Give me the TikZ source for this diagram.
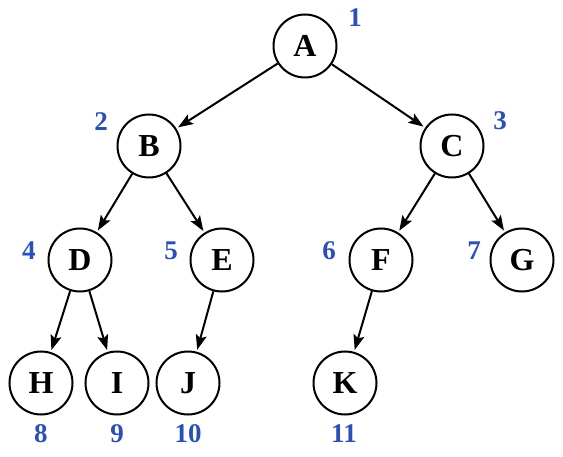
\documentclass[tikz,border=0pt]{standalone}
\usepackage{fontspec}
\setmainfont{Liberation Serif}
\usetikzlibrary{arrows.meta}
\definecolor{lblue}{HTML}{2A4FB8}
\begin{document}
\begin{tikzpicture}[x=1pt,y=-1pt,
  tn/.style={circle,draw,line width=2pt,minimum size=63pt,inner sep=0pt,font=\fontsize{32}{34}\selectfont\bfseries},
  num/.style={text=lblue,font=\fontsize{27}{29}\selectfont\bfseries,inner sep=0pt},
  edge/.style={line width=2pt,shorten >=2pt,-{Stealth[length=15pt,width=11pt,inset=3pt]}}]
\useasboundingbox (0,0) rectangle (563,457);
\node[tn] (A) at (305,46) {A};
\node[tn] (B) at (149,146) {B};
\node[tn] (C) at (452,146) {C};
\node[tn] (D) at (80,260) {D};
\node[tn] (E) at (222,260) {E};
\node[tn] (F) at (381,260) {F};
\node[tn] (G) at (522,260) {G};
\node[tn] (H) at (41,383) {H};
\node[tn] (I) at (117,383) {I};
\node[tn] (J) at (188,383) {J};
\node[tn] (K) at (345,383) {K};
\node[num] (n1) at (355,18) {1};
\node[num] (n2) at (101,122) {2};
\node[num] (n3) at (500,121) {3};
\node[num] (n4) at (29,251) {4};
\node[num] (n5) at (171,251) {5};
\node[num] (n6) at (329,251) {6};
\node[num] (n7) at (474,251) {7};
\node[num] (n8) at (41,434) {8};
\node[num] (n9) at (117,434) {9};
\node[num] (n10) at (188,434) {10};
\node[num] (n11) at (344,434) {11};
\draw[edge] (A) -- (B);
\draw[edge] (A) -- (C);
\draw[edge] (B) -- (D);
\draw[edge] (B) -- (E);
\draw[edge] (C) -- (F);
\draw[edge] (C) -- (G);
\draw[edge] (D) -- (H);
\draw[edge] (D) -- (I);
\draw[edge] (E) -- (J);
\draw[edge] (F) -- (K);
\end{tikzpicture}
\end{document}
